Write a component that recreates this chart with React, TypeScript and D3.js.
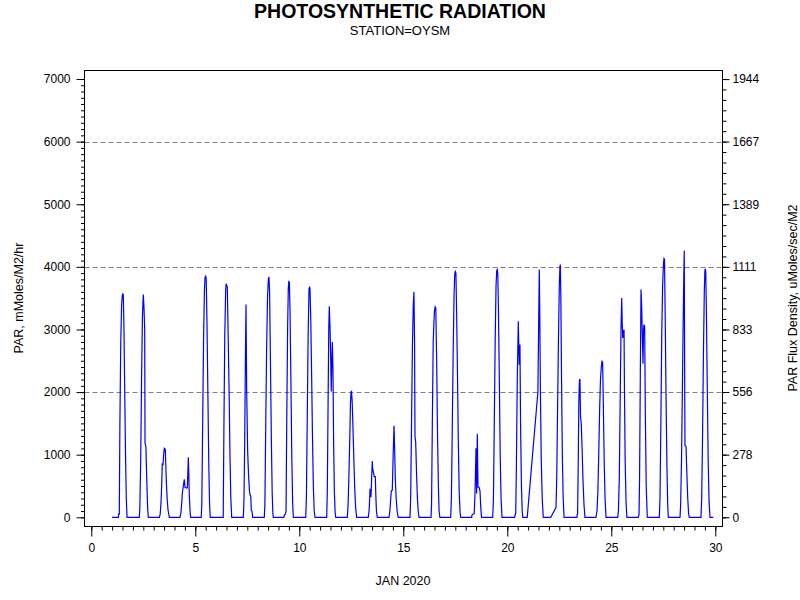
import React, { useEffect, useRef } from 'react';
import * as d3 from 'd3';

// hourly PAR readings, [hour of day, mMoles/M2/hr]
const jan01 = [[0, 0], [7.2, 0], [7.5, 50], [8.3, 50], [9, 1500], [10, 2800], [11, 3400], [11.8, 3540], [12.3, 3568], [12.9, 3560], [13.6, 3100], [14.5, 2100], [15.5, 1000], [16.4, 300], [17.2, 0]];
const jan02 = [[7.4, 0], [8, 150], [9, 900], [10, 2200], [11, 3200], [12, 3557], [12.8, 3350], [13.6, 3000], [14, 1184], [15, 1130], [16, 600], [17, 150], [17.8, 0]];
const jan03 = [[6.5, 0], [7.5, 50], [8.5, 250], [9.3, 550], [9.9, 864], [10.7, 832], [11.5, 1000], [12.2, 1104], [13.4, 1088], [14.5, 600], [15.5, 300], [16.5, 120], [18, 0]];
const jan04 = [[6.3, 0], [7.5, 80], [8.5, 250], [9, 384], [10, 480], [11.3, 608], [12.1, 480], [13.5, 470], [14.8, 470], [16, 960], [17.1, 350], [18, 80], [18.7, 0]];
const jan05 = [[6.8, 0], [7.5, 200], [8.5, 1500], [9.5, 2800], [10.5, 3600], [11.2, 3830], [12, 3850], [12.6, 3800], [13.5, 3100], [14.5, 2000], [15.5, 900], [16.4, 250], [17.2, 0]];
const jan06 = [[8.2, 0], [9, 1400], [10, 2900], [11, 3600], [11.5, 3730], [12.2, 3700], [12.9, 3690], [13.8, 3000], [15, 2000], [16, 1000], [17, 300], [18, 0]];
const jan07 = [[7.4, 0], [8.2, 300], [9, 1200], [9.8, 2500], [10.5, 3397], [11.3, 2000], [12.4, 1060], [13.5, 650], [14.5, 420], [15.1, 363], [16, 340], [16.6, 110], [17.4, 100], [18.2, 0]];
const jan08 = [[7.6, 0], [8.3, 200], [9.3, 1500], [10.3, 2700], [11.3, 3500], [12.3, 3800], [13, 3840], [13.7, 3600], [14.7, 2500], [15.7, 1300], [16.7, 400], [17.5, 60], [18, 0]];
const jan09 = [[6.2, 0], [6.8, 40], [8, 50], [8.7, 100], [9.5, 1500], [10.5, 3000], [11.3, 3650], [11.9, 3765], [12.5, 3760], [13.3, 3300], [14.3, 2200], [15.3, 1000], [16.3, 250], [17.1, 0]];
const jan10 = [[7.4, 0], [8.2, 300], [9.2, 1600], [10.2, 2900], [11.2, 3650], [11.8, 3674], [12.3, 3660], [13.2, 3200], [14.2, 2300], [15.2, 1300], [16.2, 500], [17.2, 100], [18.1, 0]];
const jan11 = [[7.6, 0], [8.3, 400], [9.2, 1800], [10, 3000], [10.6, 3370], [11.5, 3000], [12.3, 2500], [12.9, 2010], [13.5, 2500], [14.1, 2800], [14.8, 2400], [15.6, 1200], [16.5, 400], [17.3, 80], [18, 0]];
const jan12 = [[7.4, 0], [8.3, 200], [9.3, 700], [10.3, 1300], [11, 1800], [11.7, 2000], [12.3, 2010], [13, 1850], [14, 1400], [15, 900], [16, 450], [17, 150], [18.2, 0]];
const jan13 = [[7.6, 0], [8.5, 100], [9.2, 300], [9.6, 448], [10.3, 448], [10.7, 320], [12.2, 900], [12.6, 780], [13.4, 730], [14.5, 650], [15.7, 650], [16.3, 350], [17, 100], [18, 0]];
const jan14 = [[7.5, 0], [8.5, 100], [9.5, 300], [10.2, 426], [11.3, 430], [12.3, 1000], [13.3, 1460], [14, 1100], [14.8, 600], [15.8, 300], [17, 80], [18.2, 0]];
const jan15 = [[7.7, 0], [8.5, 300], [9.5, 1500], [10.5, 2700], [11.5, 3400], [12.3, 3600], [13, 2800], [13.5, 1290], [14.3, 1200], [15.3, 700], [16.3, 300], [17.3, 80], [18.2, 0]];
const jan16 = [[8, 0], [8.6, 200], [9.5, 1500], [10.5, 2800], [11.3, 3100], [12, 3300], [12.8, 3360], [13.5, 3340], [14.5, 2500], [15.5, 1300], [16.5, 500], [17.3, 100], [18.2, 0]];
const jan17 = [[6.7, 0], [7.5, 300], [8.5, 1400], [9.5, 2600], [10.5, 3500], [11.3, 3880], [12, 3925], [12.7, 3900], [13.5, 3300], [14.5, 2300], [15.5, 1200], [16.5, 400], [17.5, 80], [18.2, 0]];
const jan18 = [[6.9, 0], [7.3, 40], [9.8, 60], [10.7, 350], [11.9, 1104], [12.6, 380], [13.4, 1333], [14.2, 480], [15.5, 480], [16.5, 420], [17.4, 150], [18.3, 0]];
const jan19 = [[7.2, 0], [8, 300], [9, 1500], [10, 2800], [11, 3700], [11.8, 3940], [12.4, 3957], [13, 3900], [13.8, 3300], [14.8, 2200], [15.8, 1000], [16.8, 300], [17.9, 0]];
const jan20 = [[8.5, 0], [8.8, 30], [9.7, 60], [10.5, 800], [11.5, 2200], [12.7, 3130], [13.3, 2700], [13.8, 2437], [14.6, 2760], [15.3, 1500], [16.3, 500], [17.2, 100], [17.9, 0], [23, 0]];
const jan21 = [[11.3, 2000], [12.9, 3957], [13.5, 3200], [14.2, 2000], [15.2, 900], [16.3, 300], [17.5, 0]];
const jan22 = [[2.1, 0], [8.2, 155], [9, 600], [10, 1700], [11, 2800], [12, 3700], [12.7, 4000], [13.2, 4037], [13.8, 3500], [14.6, 2200], [15.5, 1000], [16.5, 300], [17.5, 0]];
const jan23 = [[8.4, 0], [8.6, 40], [9.1, 50], [9.8, 800], [10.5, 1800], [11.2, 2190], [11.8, 2208], [12.5, 1600], [13.3, 1500], [14.3, 1100], [15.3, 600], [16.5, 200], [17.6, 0]];
const jan24 = [[6.3, 0], [7.5, 100], [8.5, 400], [9.5, 1000], [10.5, 1700], [11.5, 2200], [12.5, 2400], [13.3, 2490], [14, 2480], [14.8, 1800], [15.8, 900], [16.8, 300], [17.9, 0]];
const jan25 = [[7.4, 0], [8.2, 100], [9.2, 600], [10.2, 1800], [11.2, 3000], [12, 3504], [12.6, 3100], [13.2, 2864], [13.8, 2950], [14.7, 2997], [15.2, 2000], [16, 900], [17, 250], [18, 0]];
const jan26 = [[7.2, 0], [7.5, 30], [8, 40], [8.6, 600], [9.5, 2300], [10.3, 3637], [11, 3400], [11.8, 2900], [12.6, 2453], [13.2, 3000], [13.7, 3077], [14.5, 3050], [15.3, 1600], [16.3, 500], [17.5, 0]];
const jan27 = [[7.4, 0], [8.2, 300], [9.2, 1500], [10.2, 2900], [11.2, 3700], [12.2, 4050], [12.8, 4133], [13.4, 4120], [14.2, 3200], [15.2, 1900], [16.2, 800], [17.1, 200], [17.8, 0]];
const jan28 = [[7.3, 0], [8, 200], [9, 900], [10, 2000], [11, 3200], [11.7, 3900], [12.2, 4261], [12.6, 2500], [13, 1146], [14.2, 1130], [15.2, 700], [16.2, 300], [17.2, 60], [18, 0]];
const jan29 = [[7.5, 0], [8.3, 300], [9.3, 1300], [10.3, 2600], [11.3, 3600], [12, 3940], [12.5, 3968], [13, 3920], [13.8, 3200], [14.8, 2000], [15.8, 900], [16.8, 250], [17.9, 0], [21.7, 0]];

const januaryDays = [jan01, jan02, jan03, jan04, jan05, jan06, jan07, jan08, jan09, jan10,
  jan11, jan12, jan13, jan14, jan15, jan16, jan17, jan18, jan19, jan20,
  jan21, jan22, jan23, jan24, jan25, jan26, jan27, jan28, jan29];

const leftTicks = [0, 1000, 2000, 3000, 4000, 5000, 6000, 7000];
const rightTicks = [0, 278, 556, 833, 1111, 1389, 1667, 1944];
const xTicks = [0, 5, 10, 15, 20, 25, 30];
const gridValues = [2000, 4000, 6000];

const FONT = '"Liberation Sans", Arial, sans-serif';

function ParChart() {
  const svgRef = useRef(null);

  useEffect(() => {
    const svg = d3.select(svgRef.current);
    svg.selectAll('*').remove();

    const frame = { left: 84.5, right: 722.5, top: 70.5, bottom: 526.5 };

    const x = d3.scaleLinear().domain([0, 30]).range([91.3, 715.3]);
    const y = d3.scaleLinear().domain([0, 7000]).range([517.3, 79]);
    const yRight = d3.scaleLinear().domain([0, 7000 / 3.6]).range([517.3, 79]);

    // points: day of month + hour/24
    const points = januaryDays.flatMap((day, i) =>
      day.map(([h, v]) => ({ t: i + 1 + h / 24, v }))
    );

    // grid
    svg
      .append('g')
      .selectAll('line')
      .data(gridValues)
      .enter()
      .append('line')
      .attr('x1', frame.left)
      .attr('x2', frame.right)
      .attr('y1', (d) => Math.round(y(d)) + 0.5)
      .attr('y2', (d) => Math.round(y(d)) + 0.5)
      .attr('stroke', '#808080')
      .attr('stroke-dasharray', '5,3');

    const line = d3
      .line()
      .x((d) => x(d.t))
      .y((d) => y(d.v));

    svg
      .append('path')
      .datum(points)
      .attr('d', line)
      .attr('fill', 'none')
      .attr('stroke', '#0000ff')
      .attr('stroke-width', 1.2);

    svg
      .append('rect')
      .attr('x', frame.left)
      .attr('y', frame.top)
      .attr('width', frame.right - frame.left)
      .attr('height', frame.bottom - frame.top)
      .attr('fill', 'none')
      .attr('stroke', '#000');

    const styleAxis = (g) => {
      g.select('.domain').remove();
      g.selectAll('line').attr('stroke', '#000');
      g.selectAll('text').attr('font-family', FONT).attr('font-size', 12).attr('fill', '#000');
    };

    // left axis
    svg
      .append('g')
      .attr('transform', `translate(${frame.left},0)`)
      .call(d3.axisLeft(y).tickValues(d3.range(0, 7001, 100)).tickSize(3.5).tickFormat(''))
      .call(styleAxis);
    svg
      .append('g')
      .attr('transform', `translate(${frame.left},0)`)
      .call(d3.axisLeft(y).tickValues(leftTicks).tickSize(8).tickPadding(6).tickFormat(d3.format('d')))
      .call(styleAxis);

    // right axis
    svg
      .append('g')
      .attr('transform', `translate(${frame.right},0)`)
      .call(d3.axisRight(yRight).tickValues(d3.range(0, 1945, 7000 / 3.6 / 42)).tickSize(4).tickFormat(''))
      .call(styleAxis);
    svg
      .append('g')
      .attr('transform', `translate(${frame.right},0)`)
      .call(d3.axisRight(yRight).tickValues(rightTicks).tickSize(7).tickPadding(3).tickFormat(d3.format('d')))
      .call(styleAxis);

    // bottom axis
    svg
      .append('g')
      .attr('transform', `translate(0,${frame.bottom})`)
      .call(d3.axisBottom(x).tickValues(d3.range(0, 30.01, 0.5)).tickSize(4).tickFormat(''))
      .call(styleAxis);
    svg
      .append('g')
      .attr('transform', `translate(0,${frame.bottom})`)
      .call(d3.axisBottom(x).tickValues(xTicks).tickSize(10).tickPadding(7).tickFormat(d3.format('d')))
      .call(styleAxis);

    // titles
    svg
      .append('text')
      .attr('x', 400)
      .attr('y', 18)
      .attr('text-anchor', 'middle')
      .attr('font-family', FONT)
      .attr('font-weight', 'bold')
      .attr('font-size', 19.5)
      .text('PHOTOSYNTHETIC RADIATION');
    svg
      .append('text')
      .attr('x', 400)
      .attr('y', 35)
      .attr('text-anchor', 'middle')
      .attr('font-family', FONT)
      .attr('font-size', 13)
      .text('STATION=OYSM');
    svg
      .append('text')
      .attr('x', 403)
      .attr('y', 585)
      .attr('text-anchor', 'middle')
      .attr('font-family', FONT)
      .attr('font-size', 12.5)
      .text('JAN 2020');
    svg
      .append('text')
      .attr('transform', 'translate(22.5,298) rotate(-90)')
      .attr('text-anchor', 'middle')
      .attr('font-family', FONT)
      .attr('font-size', 12.5)
      .text('PAR, mMoles/M2/hr');
    svg
      .append('text')
      .attr('transform', 'translate(797,298) rotate(-90)')
      .attr('text-anchor', 'middle')
      .attr('font-family', FONT)
      .attr('font-size', 12.5)
      .text('PAR Flux Density, uMoles/sec/M2');
  }, []);

  return (
    <svg
      ref={svgRef}
      width={800}
      height={600}
      style={{ position: 'absolute', left: 0, top: 0, background: '#fff' }}
    ></svg>
  );
}

export default function App() {
  return <ParChart />;
}
